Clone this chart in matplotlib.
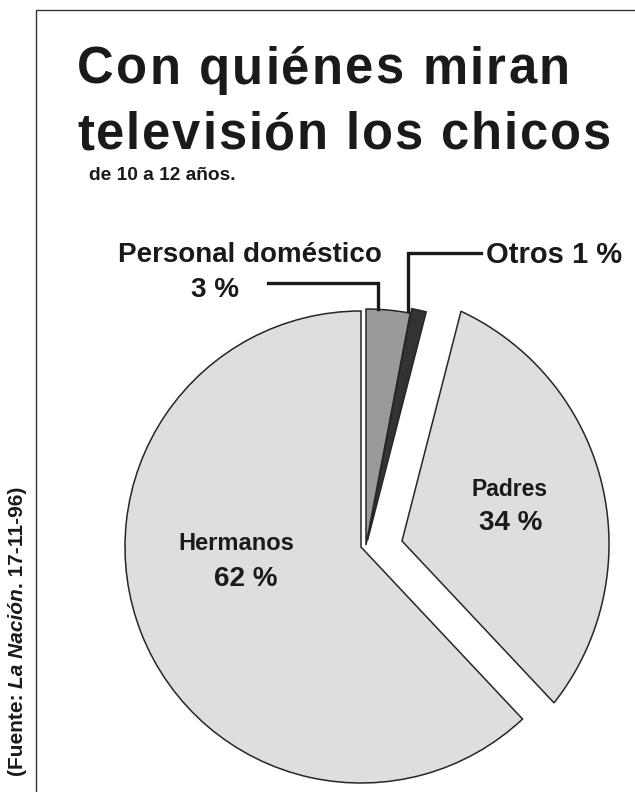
import numpy as np
import matplotlib.pyplot as plt
from matplotlib.path import Path
from matplotlib.patches import PathPatch

plt.rcParams['font.family'] = ['Liberation Sans', 'DejaVu Sans']

# audience shares, clockwise from 12 o'clock
labels = ["Personal doméstico", "Otros", "Padres", "Hermanos"]
shares = [3, 1, 34, 62]
colors = ["#9a9a9a", "#333333", "#dedede", "#dedede"]

title_lines = ["Con quiénes miran", "televisión los chicos"]
subtitle = "de 10 a 12 años."
source = [("(Fuente: ", "normal"), ("La Nación", "italic"), (". 17-11-96)", "normal")]

W, H = 635, 792
fig = plt.figure(figsize=(W / 100, H / 100), dpi=100)
ax = fig.add_axes([0, 0, 1, 1])
renderer = fig.canvas.get_renderer()


def py(y):
    # rows counted from the top edge -> data y
    return H - y


edge = "#262626"
cx, cy, r = 361, py(547), 236
wedges, _ = ax.pie(shares, colors=colors, startangle=90, counterclock=False,
                   center=(cx, cy), radius=r,
                   wedgeprops=dict(edgecolor=edge, linewidth=1.1))
ax.set_xlim(0, W)
ax.set_ylim(0, H)
ax.set_aspect("equal")
ax.axis("off")

# the two thin slices sit slightly apart from Hermanos
wedges[0].set_center((cx + 5, cy + 2))
wedges[1].set_center((cx + 6.5, cy + 6.5))

# Padres is pulled out; its outer rim follows a wider, flatter arc
padres = wedges[2]
padres.set_visible(False)
apex = np.array([402.0, py(541)])
rim_c = np.array([352.0, py(544)])
rim_r = 257.0


def rim_angle(theta):
    u = np.array([np.cos(np.radians(theta)), np.sin(np.radians(theta))])
    d = apex - rim_c
    b = d @ u
    s = -b + np.sqrt(b * b - (d @ d - rim_r ** 2))
    p = apex + s * u - rim_c
    return np.degrees(np.arctan2(p[1], p[0]))


a0, a1 = rim_angle(padres.theta1), rim_angle(padres.theta2)
t = np.radians(np.linspace(a0, a1, 120))
arc = np.column_stack([rim_c[0] + rim_r * np.cos(t), rim_c[1] + rim_r * np.sin(t)])
verts = np.vstack([apex, arc, apex])
codes = [Path.MOVETO] + [Path.LINETO] * len(arc) + [Path.CLOSEPOLY]
ax.add_patch(PathPatch(Path(verts, codes), facecolor=colors[2],
                       edgecolor=edge, linewidth=1.1))

# frame on the left and top
ax.plot([36, 36, W], [0, py(10), py(10)], color="#333333", lw=1.0,
        solid_joinstyle="miter")


def width(s, **kw):
    t = ax.text(0, 0, s + "H", **kw)
    w = t.get_window_extent(renderer).width
    t.remove()
    h = ax.text(0, 0, "H", **kw)
    wh = h.get_window_extent(renderer).width
    h.remove()
    return w - wh


def tracked(x, y, s, spacing, **kw):
    for i, ch in enumerate(s):
        ax.text(x + width(s[:i], **kw) + i * spacing, y, ch,
                ha="left", va="baseline", **kw)


title_kw = dict(fontsize=36.5, fontweight="bold", color="#1a1a1a")
tracked(77, py(84), title_lines[0], 2.2, **title_kw)
tracked(77, py(149), title_lines[1], 1.85, **title_kw)
ax.text(89, py(180), subtitle, fontsize=13.8, fontweight="bold",
        color="#1a1a1a", ha="left", va="baseline")

# rotated source note, read bottom to top
y0 = py(776)
for piece, style in source:
    kw = dict(fontsize=15, fontweight="bold", fontstyle=style, color="#1a1a1a")
    ax.text(23, y0, piece, rotation=90, rotation_mode="anchor",
            ha="left", va="baseline", **kw)
    y0 += width(piece, **kw)

lab = dict(fontweight="bold", color="#1a1a1a", ha="center", va="center")
ax.text(236, py(543), labels[3], fontsize=17, **lab)
ax.text(246, py(579), f"{shares[3]} %", fontsize=20, **lab)
ax.text(510, py(489), labels[2], fontsize=16.5, **lab)
ax.text(511, py(523), f"{shares[2]} %", fontsize=20, **lab)
ax.text(250, py(255), labels[0], fontsize=20, **lab)
ax.text(215, py(290), f"{shares[0]} %", fontsize=20, **lab)
ax.text(554, py(255), f"{labels[1]} {shares[1]} %", fontsize=21, **lab)

# leader lines to the two thin slices
lead = dict(color="#1a1a1a", lw=2.4, solid_joinstyle="miter")
ax.plot([268, 378, 378], [py(283), py(283), py(309)], **lead)
ax.plot([481, 408, 408], [py(253), py(253), py(311)], **lead)

fig.savefig("out.png", dpi=100)
